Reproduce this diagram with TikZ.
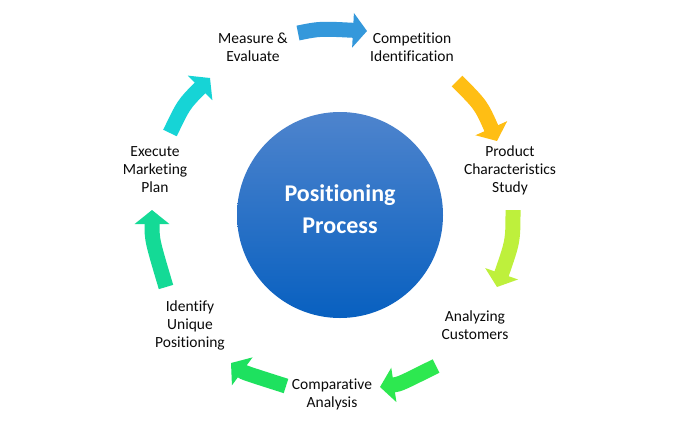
\documentclass[tikz,border=0pt]{standalone}
\usepackage{fontspec}
\setmainfont{Carlito}[Ligatures=NoCommon]
\usetikzlibrary{arrows.meta}
\definecolor{cTop}{RGB}{52,152,219}
\definecolor{cYel}{RGB}{255,190,20}
\definecolor{cLime}{RGB}{190,240,60}
\definecolor{cGrA}{RGB}{45,232,80}
\definecolor{cGrB}{RGB}{30,225,95}
\definecolor{cTeal}{RGB}{20,218,150}
\definecolor{cCyan}{RGB}{22,212,214}
\definecolor{discTop}{RGB}{78,132,205}
\definecolor{discBot}{RGB}{8,96,192}
\definecolor{txt}{RGB}{10,10,10}
\begin{document}
\begin{tikzpicture}[x=1pt,y=-1pt,
  lbl/.style={font=\fontsize{15.5}{18}\selectfont, align=center, text=txt, inner sep=0pt},
  flow/.style={line width=15pt, -{Triangle[length=14pt,width=34pt]}},
  disc/.style={circle, minimum size=206pt, inner sep=0pt, top color=discTop, bottom color=discBot, draw=none}]
\useasboundingbox (0,0) rectangle (677,429);
\fill[white] (0,0) rectangle (677,429);

\node[disc] (hub) at (340,215) {};
\node[font=\bfseries\fontsize{24}{32}\selectfont, text=white, align=center] (title) at (340,209) {Positioning\\Process};

\node[lbl] (m) at (253,47) {Measure \&\\Evaluate};
\node[lbl] (c) at (412,47) {Competition\\Identification};
\node[lbl] (p) at (510,170) {Product\\Characteristics\\Study};
\node[lbl] (a) at (475,325) {Analyzing\\Customers};
\node[lbl] (cmp) at (332,394) {Comparative\\Analysis};
\node[lbl] (iu) at (190,325) {Identify\\Unique\\Positioning};
\node[lbl] (ex) at (155,170) {Execute\\Marketing\\Plan};

\coordinate (s1) at (298,33);  \coordinate (e1) at (367,31);
\coordinate (s2) at (457,81);  \coordinate (e2) at (497,141);
\coordinate (s3) at (513,210); \coordinate (e3) at (497,287);
\coordinate (s4) at (436,366); \coordinate (e4) at (380,387);
\coordinate (s5) at (286,386); \coordinate (e5) at (231,363);
\coordinate (s6) at (166,287); \coordinate (e6) at (152,210);
\coordinate (s7) at (170,133); \coordinate (e7) at (210,78);

\draw[flow, draw=cTop, fill=cTop] (s1) .. controls (320,28.6) .. (e1);
\draw[flow, draw=cYel, fill=cYel] (s2) .. controls (481,105) .. (e2);
\draw[flow, draw=cLime, fill=cLime] (s3) .. controls (513,241) .. (e3);
\draw[flow, draw=cGrA, fill=cGrA] (s4) .. controls (400,384) .. (e4);
\draw[flow, draw=cGrB, fill=cGrB] (s5) .. controls (244,372.6) .. (e5);
\draw[flow, draw=cTeal, fill=cTeal] (s6) .. controls (152,240) .. (e6);
\draw[flow, draw=cCyan, fill=cCyan] (s7) .. controls (183.8,104.2) .. (e7);
\end{tikzpicture}
\end{document}
